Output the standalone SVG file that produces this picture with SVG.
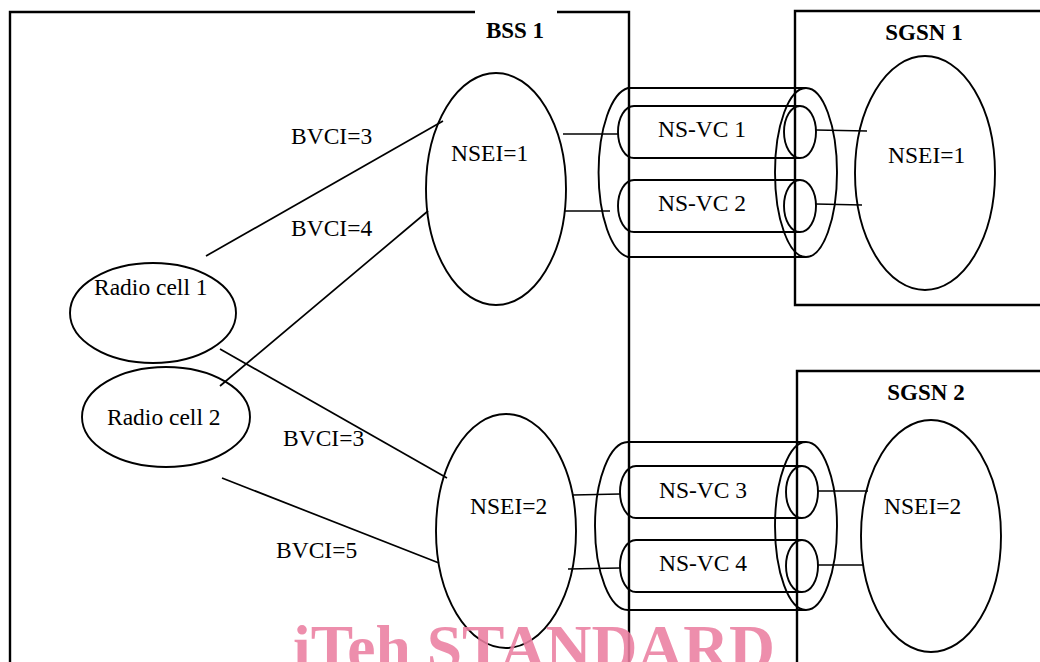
<svg xmlns="http://www.w3.org/2000/svg" width="1040" height="662" viewBox="0 0 1040 662">
<style>
.box{fill:none;stroke:#000;stroke-width:2.4}
.sh{fill:none;stroke:#000;stroke-width:1.9}
.ln{fill:none;stroke:#000;stroke-width:1.7}
.t{font-family:"Liberation Serif","Times New Roman",serif;font-size:23.5px;fill:#000}
.b{font-family:"Liberation Serif","Times New Roman",serif;font-size:23px;font-weight:bold;fill:#000;text-anchor:middle}
.wm{font-family:"Liberation Serif","Times New Roman",serif;font-size:64px;font-weight:bold;fill:#ea7ea0;fill-opacity:0.88}
</style>
<rect width="1040" height="662" fill="#fff"/>
<g id="bss1">
<path class="box" d="M10,680 V12 H629 V680"/>
<rect x="475" y="9" width="82" height="6" fill="#fff"/>
<text class="b" x="515" y="38">BSS 1</text>
</g>
<g id="sgsn1">
<path class="box" d="M1045,305 H795 V11 H1045"/>
<text class="b" x="924" y="40">SGSN 1</text>
</g>
<g id="sgsn2">
<path class="box" d="M1045,371 H797 V680"/>
<text class="b" x="926" y="400">SGSN 2</text>
</g>
<g id="connectors">
<line class="ln" x1="206" y1="256" x2="443" y2="121"/>
<line class="ln" x1="220" y1="386" x2="428" y2="211"/>
<line class="ln" x1="220" y1="349" x2="447" y2="478"/>
<line class="ln" x1="222" y1="478" x2="439" y2="563"/>
<line class="ln" x1="563" y1="134" x2="618" y2="134"/>
<line class="ln" x1="565" y1="211" x2="610" y2="211"/>
<line class="ln" x1="816" y1="130" x2="867" y2="131"/>
<line class="ln" x1="816" y1="204" x2="862" y2="205"/>
<line class="ln" x1="573" y1="495" x2="620" y2="494"/>
<line class="ln" x1="568" y1="569" x2="620" y2="568"/>
<line class="ln" x1="818" y1="491" x2="868" y2="491"/>
<line class="ln" x1="818" y1="565" x2="864" y2="565"/>
</g>
<g id="bvci-labels">
<text class="t" x="291" y="144">BVCI=3</text>
<text class="t" x="291" y="236">BVCI=4</text>
<text class="t" x="283" y="446">BVCI=3</text>
<text class="t" x="276" y="558">BVCI=5</text>
</g>
<g id="radio-cell-1">
<ellipse class="sh" cx="153" cy="313" rx="83" ry="50"/>
<text class="t" x="94" y="295">Radio cell 1</text>
</g>
<g id="radio-cell-2">
<ellipse class="sh" cx="166" cy="417" rx="84" ry="50"/>
<text class="t" x="107" y="425">Radio cell 2</text>
</g>
<g id="bss-nsei-1">
<ellipse class="sh" cx="496" cy="189" rx="70" ry="116"/>
<text class="t" x="451" y="161">NSEI=1</text>
</g>
<g id="bss-nsei-2">
<ellipse class="sh" cx="506" cy="531" rx="70" ry="117"/>
<text class="t" x="470" y="514">NSEI=2</text>
</g>
<g id="sgsn-nsei-1">
<ellipse class="sh" cx="925" cy="173" rx="70" ry="117"/>
<text class="t" x="888" y="163">NSEI=1</text>
</g>
<g id="sgsn-nsei-2">
<ellipse class="sh" cx="931" cy="536" rx="70" ry="116"/>
<text class="t" x="884" y="514">NSEI=2</text>
</g>
<g id="bundle-1">
<path class="sh" d="M806,88 H628 A33,85 0 0 0 628,257 H806"/>
<ellipse class="sh" cx="806" cy="172.5" rx="31" ry="84.5"/>
</g>
<g id="ns-vc-1">
<path class="sh" d="M800,106 H634 A16,26 0 0 0 634,158 H800"/>
<ellipse class="sh" cx="800" cy="132" rx="16" ry="26"/>
<text class="t" x="702" y="137" text-anchor="middle">NS-VC 1</text>
</g>
<g id="ns-vc-2">
<path class="sh" d="M800,180 H634 A16,26 0 0 0 634,232 H800"/>
<ellipse class="sh" cx="800" cy="206" rx="16" ry="26"/>
<text class="t" x="702" y="211" text-anchor="middle">NS-VC 2</text>
</g>
<g id="bundle-2">
<path class="sh" d="M806,442 H628 A33,84 0 0 0 628,610 H806"/>
<ellipse class="sh" cx="806" cy="526" rx="31" ry="84"/>
</g>
<g id="ns-vc-3">
<path class="sh" d="M802,466 H636 A16,26 0 0 0 636,518 H802"/>
<ellipse class="sh" cx="802" cy="492" rx="16" ry="26"/>
<text class="t" x="703" y="498" text-anchor="middle">NS-VC 3</text>
</g>
<g id="ns-vc-4">
<path class="sh" d="M802,540 H636 A16,26 0 0 0 636,592 H802"/>
<ellipse class="sh" cx="802" cy="566" rx="16" ry="26"/>
<text class="t" x="703" y="571" text-anchor="middle">NS-VC 4</text>
</g>
<text class="wm" x="293" y="669" textLength="482" lengthAdjust="spacingAndGlyphs">iTeh STANDARD</text>
</svg>
